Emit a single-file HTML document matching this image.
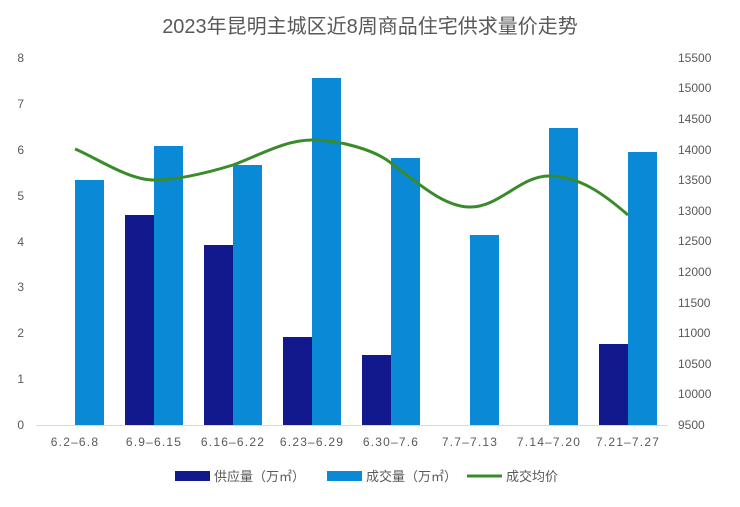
<!DOCTYPE html>
<html><head><meta charset="utf-8"><style>body{margin:0;background:#fff}</style></head><body>
<svg width="740" height="502" xmlns="http://www.w3.org/2000/svg" font-family="'Liberation Sans','Noto Sans CJK SC',sans-serif">
<rect width="740" height="502" fill="#fff"/>
<text x="370" y="33" text-anchor="middle" font-size="20" fill="#595959">2023年昆明主城区近8周商品住宅供求量价走势</text>
<g font-size="12" fill="#595959">
<text x="24" y="429" text-anchor="end">0</text>
<text x="24" y="383" text-anchor="end">1</text>
<text x="24" y="337" text-anchor="end">2</text>
<text x="24" y="291" text-anchor="end">3</text>
<text x="24" y="246" text-anchor="end">4</text>
<text x="24" y="200" text-anchor="end">5</text>
<text x="24" y="154" text-anchor="end">6</text>
<text x="24" y="108" text-anchor="end">7</text>
<text x="24" y="62" text-anchor="end">8</text>
<text x="678" y="429">9500</text>
<text x="678" y="398">10000</text>
<text x="678" y="368">10500</text>
<text x="678" y="337">11000</text>
<text x="678" y="307">11500</text>
<text x="678" y="276">12000</text>
<text x="678" y="245">12500</text>
<text x="678" y="215">13000</text>
<text x="678" y="184">13500</text>
<text x="678" y="154">14000</text>
<text x="678" y="123">14500</text>
<text x="678" y="92">15000</text>
<text x="678" y="62">15500</text>
</g>
<line x1="36" y1="425.5" x2="668" y2="425.5" stroke="#d9d9d9"/>
<g fill="#12198c">
<rect x="125" y="215" width="29" height="210"/>
<rect x="204" y="245" width="29" height="180"/>
<rect x="283" y="337" width="29" height="88"/>
<rect x="362" y="355" width="29" height="70"/>
<rect x="599" y="344" width="29" height="81"/>
</g>
<g fill="#0a8ad6">
<rect x="75" y="180" width="29" height="245"/>
<rect x="154" y="146" width="29" height="279"/>
<rect x="233" y="165" width="29" height="260"/>
<rect x="312" y="78" width="29" height="347"/>
<rect x="391" y="158" width="29" height="267"/>
<rect x="470" y="235" width="29" height="190"/>
<rect x="549" y="128" width="29" height="297"/>
<rect x="628" y="152" width="29" height="273"/>
</g>
<path d="M75,149 C95,157 128,180 154,180 C180,180 210,172 233,165 C260,155 285,140 312,140 C340,140 375,150 391,163 C420,185 445,207 470,207 C500,207 520,176 549,176 C580,176 605,195 628,215" fill="none" stroke="#3a8b2b" stroke-width="3"/>
<g font-size="12" fill="#595959" text-anchor="middle" letter-spacing="1.2">
<text x="75" y="446">6.2–6.8</text>
<text x="154" y="446">6.9–6.15</text>
<text x="233" y="446">6.16–6.22</text>
<text x="312" y="446">6.23–6.29</text>
<text x="391" y="446">6.30–7.6</text>
<text x="470" y="446">7.7–7.13</text>
<text x="549" y="446">7.14–7.20</text>
<text x="628" y="446">7.21–7.27</text>
</g>
<g font-size="13" fill="#595959">
<rect x="175" y="471" width="35" height="10" fill="#12198c"/>
<text x="214" y="481">供应量（万㎡）</text>
<rect x="327" y="471" width="35" height="10" fill="#0a8ad6"/>
<text x="366" y="481">成交量（万㎡）</text>
<line x1="467" y1="476" x2="502" y2="476" stroke="#3a8b2b" stroke-width="3"/>
<text x="506" y="481">成交均价</text>
</g>
</svg>
</body></html>
